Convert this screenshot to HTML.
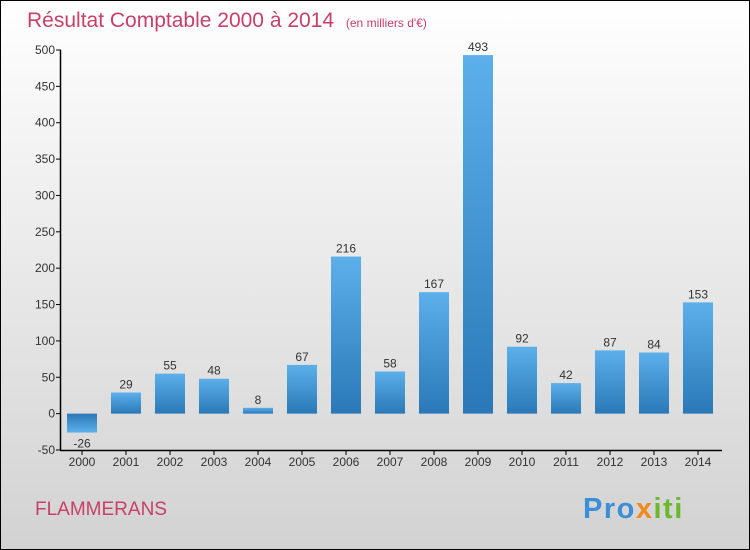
<!DOCTYPE html>
<html><head><meta charset="utf-8"><style>
body{margin:0;width:750px;height:550px;overflow:hidden;font-family:"Liberation Sans",sans-serif}
svg{display:block}
</style></head><body>
<svg width="750" height="550">
<defs>
<linearGradient id="bg" x1="0" y1="0" x2="0" y2="1"><stop offset="0" stop-color="#ffffff"/><stop offset="1" stop-color="#d2d2d2"/></linearGradient>
<linearGradient id="bp" x1="0" y1="0" x2="0" y2="1"><stop offset="0" stop-color="#5cb0ea"/><stop offset="1" stop-color="#2a78b8"/></linearGradient>
<linearGradient id="bn" x1="0" y1="0" x2="0" y2="1"><stop offset="0" stop-color="#2a78b8"/><stop offset="1" stop-color="#5cb0ea"/></linearGradient>
</defs>
<rect x="0.5" y="0.5" width="749" height="549" fill="url(#bg)" stroke="#000"/>
<text x="27" y="27" font-size="21" fill="#c8406a">Résultat Comptable 2000 à 2014 <tspan font-size="12" dx="6">(en milliers d'€)</tspan></text>
<text x="35" y="515" font-size="19" fill="#c8406a">FLAMMERANS</text>
<text x="583" y="518" font-size="29" font-weight="bold" letter-spacing="1.5"><tspan fill="#3a8fd8">Pro</tspan><tspan fill="#f08a1c">x</tspan><tspan fill="#6ab82c">iti</tspan></text>
<g id="plot"></g>
</svg>
<script>
const years=["2000","2001","2002","2003","2004","2005","2006","2007","2008","2009","2010","2011","2012","2013","2014"];
const values=[-26,29,55,48,8,67,216,58,167,493,92,42,87,84,153];
const ticks=[-50,0,50,100,150,200,250,300,350,400,450,500];
const NS="http://www.w3.org/2000/svg";
const g=document.getElementById('plot');
const y=v=>450-(v+50)*400/550;
const x=i=>82+i*44;
function mk(t,a,txt){const e=document.createElementNS(NS,t);for(const k in a)e.setAttribute(k,a[k]);if(txt!==undefined)e.textContent=txt;g.appendChild(e);return e;}
values.forEach((v,i)=>{
 const r=mk('rect',{x:x(i)-15,y:Math.min(y(v),y(0)),width:30,height:Math.abs(y(v)-y(0)),fill:v<0?'url(#bn)':'url(#bp)'});
 
 
 const t=mk('text',{x:x(i),y:v<0?y(v)+15:y(v)-4,'font-size':12,fill:'#333','text-anchor':'middle'},String(v));
 
 
 const tk=mk('line',{x1:x(i),x2:x(i),y1:450,y2:455,stroke:'#000'});
 
 
 const xl=mk('text',{x:x(i),y:466,'font-size':12,fill:'#333','text-anchor':'middle'},years[i]);
 
 
});
ticks.forEach(v=>{
 const l=mk('line',{x1:56,x2:61,y1:y(v),y2:y(v),stroke:'#000'});
 
 
 const t=mk('text',{x:55,y:y(v)+4,'font-size':12,fill:'#333','text-anchor':'end'},String(v));
 
 
});
const ya=mk('line',{x1:60.5,x2:60.5,y1:y(500),y2:450,stroke:'#000','stroke-width':1.5});


const xa=mk('line',{x1:60,x2:722,y1:450.5,y2:450.5,stroke:'#000','stroke-width':1.5});


</script>
</body></html>
